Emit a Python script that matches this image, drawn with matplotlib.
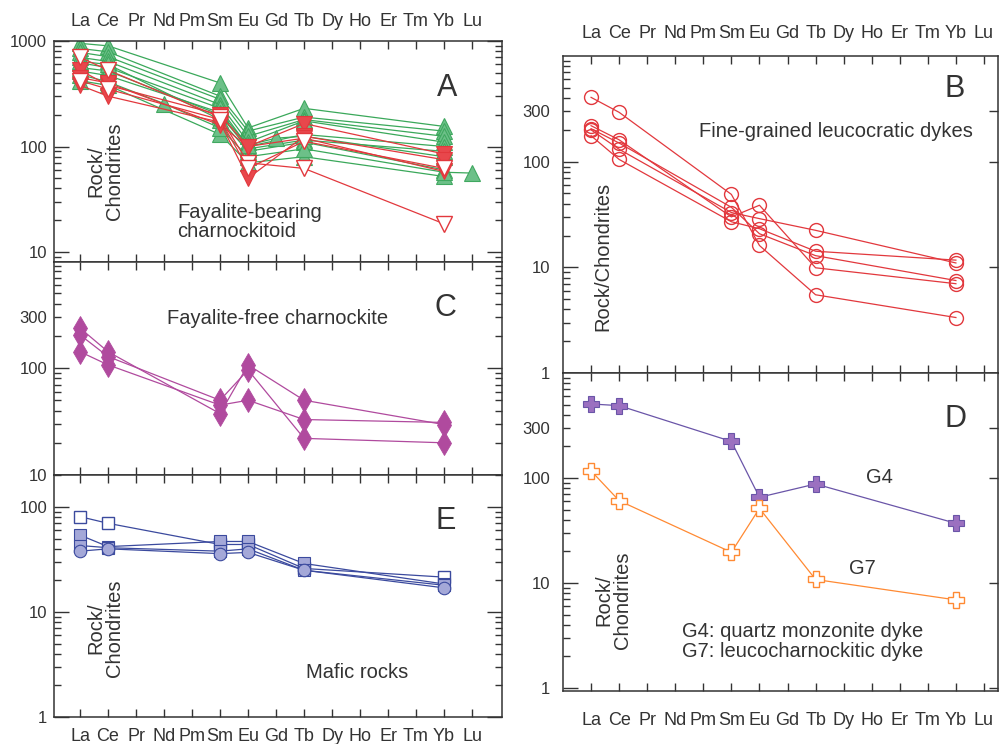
import matplotlib
matplotlib.use('Agg')
import matplotlib.pyplot as plt
from matplotlib.ticker import FixedLocator, NullFormatter

plt.rcParams['font.family'] = ['Liberation Sans', 'DejaVu Sans']

# ---------------- data ----------------
elements = ['La', 'Ce', 'Pr', 'Nd', 'Pm', 'Sm', 'Eu', 'Gd', 'Tb', 'Dy', 'Ho', 'Er', 'Tm', 'Yb', 'Lu']
main_elems = ['La', 'Ce', 'Sm', 'Eu', 'Tb', 'Yb']

# Panel A - fayalite-bearing charnockitoid
a_green = [
    [950, 900, 400, 150, 230, 155],
    [850, 790, 300, 140, 190, 140],
    [780, 710, 280, 125, 180, 125],
    [700, 640, 250, 110, 175, 110],
    [620, 560, 230, 100, 130, 100],
    [560, 520, 200, 95, 115, 90],
    [640, 600, 180, 90, 110, 60],
    [420, 380, 130, 70, 80, 52],
]
a_green_nd_elems = ['La', 'Ce', 'Nd', 'Sm', 'Eu', 'Tb', 'Yb', 'Lu']
a_green_nd = [480, 410, 255, 150, 80, 95, 57, 56]
a_green_gd_elems = ['La', 'Ce', 'Sm', 'Eu', 'Gd', 'Tb', 'Yb']
a_green_gd = [520, 470, 210, 103, 120, 125, 80]
a_red_filled = [
    [530, 380, 200, 100, 165, 85],
    [380, 300, 170, 50, 125, 75],
    [450, 400, 160, 100, 120, 58],
]
a_red_open = [
    [700, 530, 190, 70, 62, 18.5],
    [420, 350, 180, 62, 112, 62],
]

# Panel C - fayalite-free charnockite
c_series = [
    [236, 142, 37.5, 107, 50, 29.6],
    [204, 128, 50, 96, 22, 20],
    [142, 107, 45, 50, 33, 31],
]

# Panel E - mafic rocks
e_open_sq = [81, 70, 44, 44, 26, 21.5]
e_filled_sq = [
    [54, 42, 47, 47, 29, 18.5],
    [43, 41, 38, 40, 25, 18],
]
e_circle = [38, 40, 36, 37, 25, 17]

# Panel B - fine-grained leucocratic dykes
b_series = [
    [406, 293, 49, 16.1, 5.5, 3.35],
    [219, 161, 30, 38.7, 9.9, 7.0],
    [200, 131, 33, 28.9, 22.4, 11.0],
    [176, 105, 27, 23.2, 14.2, 11.7],
    [205, 150, 37, 20.8, 12.9, 7.5],
]

# Panel D - dykes G4 and G7
d_g4 = [507, 489, 223, 65.5, 87.7, 37]
d_g7 = [117, 60.8, 19.6, 51.4, 10.8, 6.9]

# ---------------- figure ----------------
W, H = 999, 744
fig = plt.figure(figsize=(W / 100, H / 100), dpi=100)


def rect(l, t, r, b):
    return [l / W, 1 - b / H, (r - l) / W, (b - t) / H]


axA = fig.add_axes(rect(54, 41, 502, 262))
axC = fig.add_axes(rect(54, 262, 502, 475))
axE = fig.add_axes(rect(54, 475, 502, 717))
axB = fig.add_axes(rect(563, 56, 998, 373))
axD = fig.add_axes(rect(563, 373, 998, 691))

DARK = '#333333'
px = 0.72  # points per pixel
TXT = 14.5
LET = 22


def xi(names):
    return [elements.index(n) for n in names]


def style(ax, xlim, ylim, ylabels, top=False, bottom=False, xpad=7, right_minor=True, ypad=5):
    ax.set_yscale('log')
    ax.set_xlim(*xlim)
    ax.set_ylim(*ylim)
    for s in ax.spines.values():
        s.set_color(DARK)
        s.set_linewidth(1.1)
    ax.xaxis.set_major_locator(FixedLocator(range(len(elements))))
    ax.set_xticklabels(elements)
    ax.tick_params(axis='x', which='major', direction='in', top=True, bottom=True,
                   length=8 * px, width=1, color=DARK, labelcolor=DARK,
                   labeltop=top, labelbottom=bottom, labelsize=13, pad=xpad)
    ax.xaxis.set_minor_locator(FixedLocator([]))
    majors = sorted(ylabels.keys())
    ax.yaxis.set_major_locator(FixedLocator(majors))
    ax.set_yticklabels([ylabels[m] for m in majors])
    minors = []
    for dec in [0.1, 1, 10, 100, 1000]:
        for k in range(2, 10):
            v = dec * k
            if ylim[0] <= v <= ylim[1] and v not in ylabels:
                minors.append(v)
    ax.yaxis.set_minor_locator(FixedLocator(minors))
    ax.yaxis.set_minor_formatter(NullFormatter())
    ax.tick_params(axis='y', which='major', direction='in', left=True, right=True,
                   length=15 * px, width=1, color=DARK, labelcolor=DARK,
                   labelsize=12, pad=ypad)
    ax.tick_params(axis='y', which='minor', direction='in', left=True, right=right_minor,
                   length=7 * px, width=1, color=DARK)
    for t, m in zip(ax.yaxis.get_major_ticks(), majors):
        s = str(int(m)) if m >= 1 else str(m)
        if not s.startswith('1'):
            t.tick1line.set_markersize(7 * px)
            t.tick2line.set_markersize(7 * px)
    if not right_minor:
        for t in ax.yaxis.get_major_ticks():
            t.tick2line.set_markersize(9 * px)


xl_left = (-0.93, 15.07)
xl_right = (-1.0, 14.5)

style(axA, xl_left, (8.04, 1000), {10: '10', 100: '100', 1000: '1000'}, top=True, xpad=8)
style(axC, xl_left, (10, 980), {10: '10', 100: '100', 300: '300'})
style(axE, xl_left, (1, 202), {1: '1', 10: '10', 100: '100'}, bottom=True, xpad=8)
style(axB, xl_right, (1, 1000), {1: '1', 10: '10', 100: '100', 300: '300'}, top=True,
      xpad=10, right_minor=False, ypad=9)
style(axD, xl_right, (0.936, 1000), {1: '1', 10: '10', 100: '100', 300: '300'}, bottom=True,
      xpad=15, right_minor=False, ypad=9)

# ---------------- panel A ----------------
g_line, g_face, g_edge = '#3aa85a', '#6cc088', '#40a860'
r_line, r_face = '#e2383d', '#e8474c'
for vals in a_green:
    axA.plot(xi(main_elems), vals, '-', color=g_line, lw=0.9, marker='^', ms=11,
             mfc=g_face, mec=g_edge, mew=0.8)
axA.plot(xi(a_green_nd_elems), a_green_nd, '-', color=g_line, lw=0.9, marker='^', ms=11,
         mfc=g_face, mec=g_edge, mew=0.8)
axA.plot(xi(a_green_gd_elems), a_green_gd, '-', color=g_line, lw=0.9, marker='^', ms=11,
         mfc=g_face, mec=g_edge, mew=0.8)
for vals in a_red_filled:
    axA.plot(xi(main_elems), vals, '-', color=r_line, lw=0.9, marker='v', ms=11,
             mfc=r_face, mec=r_line, mew=0.8)
for vals in a_red_open:
    axA.plot(xi(main_elems), vals, '-', color=r_line, lw=0.9, marker='v', ms=11,
             mfc='white', mec=r_line, mew=1.0)

axA.text(13.1, 358, 'A', fontsize=LET, color=DARK, ha='center', va='center')
axA.text(0.89, 20, 'Rock/\nChondrites', rotation=90, fontsize=TXT, color=DARK,
         ha='center', va='bottom', linespacing=0.95)
axA.text(3.46, 29, 'Fayalite-bearing\ncharnockitoid', fontsize=TXT, color=DARK,
         ha='left', va='top', linespacing=1.0)

# ---------------- panel C ----------------
m_col = '#b04a9e'
for vals in c_series:
    axC.plot(xi(main_elems), vals, '-', color=m_col, lw=0.9, marker='d', ms=12,
             mfc=m_col, mec=m_col, mew=0.6)
axC.text(13.04, 366, 'C', fontsize=LET, color=DARK, ha='center', va='center')
axC.text(7.07, 288, 'Fayalite-free charnockite', fontsize=TXT, color=DARK,
         ha='center', va='center')

# ---------------- panel E ----------------
b_line, b_face = '#3b4a9e', '#a4a8d8'
axE.plot(xi(main_elems), e_open_sq, '-', color=b_line, lw=0.9, marker='s', ms=9,
         mfc='white', mec=b_line, mew=1.0)
for vals in e_filled_sq:
    axE.plot(xi(main_elems), vals, '-', color=b_line, lw=0.9, marker='s', ms=9,
             mfc=b_face, mec=b_line, mew=0.8)
axE.plot(xi(main_elems), e_circle, '-', color=b_line, lw=0.9, marker='o', ms=9,
         mfc=b_face, mec=b_line, mew=0.8)
axE.text(13.07, 73.6, 'E', fontsize=LET, color=DARK, ha='center', va='center')
axE.text(0.89, 2.4, 'Rock/\nChondrites', rotation=90, fontsize=TXT, color=DARK,
         ha='center', va='bottom', linespacing=0.95)
axE.text(9.9, 2.68, 'Mafic rocks', fontsize=TXT, color=DARK, ha='center', va='center')

# ---------------- panel B ----------------
for vals in b_series:
    axB.plot(xi(main_elems), vals, '-', color=r_line, lw=0.9, marker='o', ms=10,
             mfc='none', mec=r_line, mew=1.0)
axB.text(12.97, 482, 'B', fontsize=LET, color=DARK, ha='center', va='center')
axB.text(8.73, 192, 'Fine-grained leucocratic dykes', fontsize=TXT, color=DARK,
         ha='center', va='center')
axB.text(0.43, 2.5, 'Rock/Chondrites', rotation=90, fontsize=TXT, color=DARK,
         ha='center', va='bottom')

# ---------------- panel D ----------------
p_line, p_face = '#6a55a8', '#9b70c0'
o_col = '#ff8a33'
axD.plot(xi(main_elems), d_g4, '-', color=p_line, lw=0.9, marker='P', ms=11,
         mfc=p_face, mec=p_line, mew=0.8)
axD.plot(xi(main_elems), d_g7, '-', color=o_col, lw=0.9, marker='P', ms=11,
         mfc='white', mec=o_col, mew=1.0)
axD.text(12.97, 365, 'D', fontsize=LET, color=DARK, ha='center', va='center')
axD.text(10.26, 102, 'G4', fontsize=TXT, color=DARK, ha='center', va='center')
axD.text(9.65, 13.6, 'G7', fontsize=TXT, color=DARK, ha='center', va='center')
axD.text(3.24, 4.25, 'G4: quartz monzonite dyke\nG7: leucocharnockitic dyke',
         fontsize=TXT, color=DARK, ha='left', va='top', linespacing=1.05)
axD.text(0.78, 2.35, 'Rock/\nChondrites', rotation=90, fontsize=TXT, color=DARK,
         ha='center', va='bottom', linespacing=0.95)

fig.savefig('out.png', dpi=100)
